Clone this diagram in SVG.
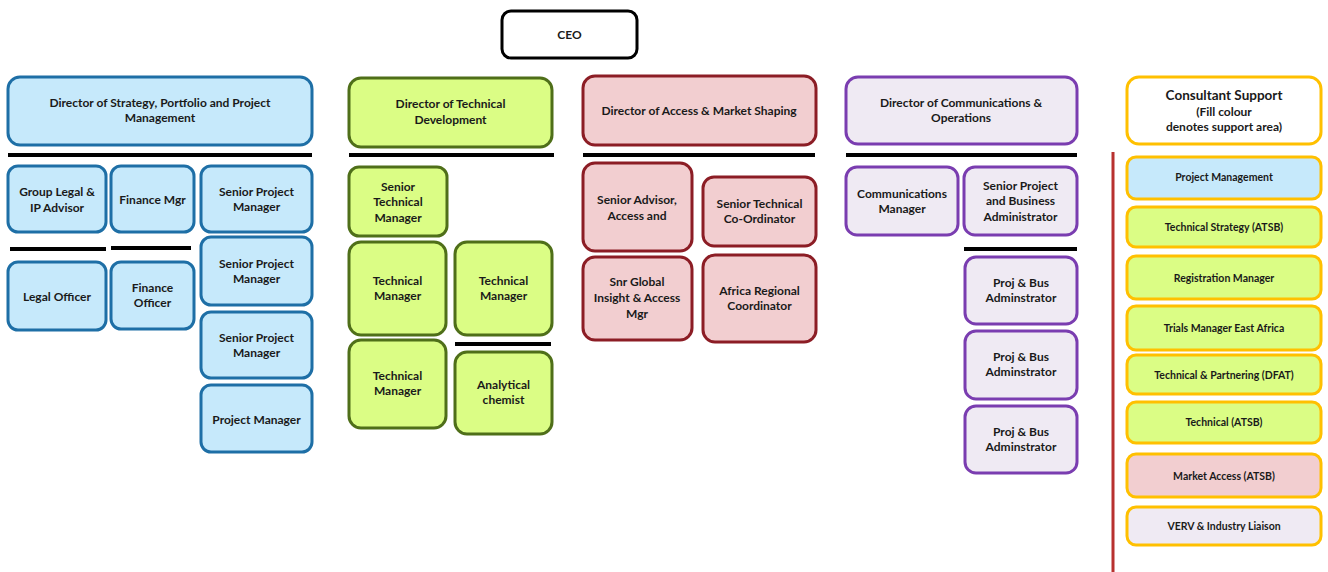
<svg xmlns="http://www.w3.org/2000/svg" width="1328" height="572" viewBox="0 0 1328 572">
<style>
text{font-family:Lato,"Liberation Sans",Arial,sans-serif;font-weight:bold;font-size:12px;fill:#1a1a1a;text-anchor:middle}
rect{stroke-width:3}
.ceo{fill:#fff;stroke:#000}
.b{fill:#c6e9fb;stroke:#1e6fa6}
.g{fill:#dbfd85;stroke:#4f6f19}
.r{fill:#f2ced0;stroke:#8c1d25}
.p{fill:#efeaf3;stroke:#7a3db0}
.cs{stroke:#ffc000}
.w{fill:#fff}
.sm{font-size:10.5px}
.hl{stroke:#000;stroke-width:4}
</style>
<g id="connectors">
<line class="hl" x1="8" y1="155" x2="312" y2="155"/>
<line class="hl" x1="349" y1="155" x2="554" y2="155"/>
<line class="hl" x1="583" y1="155" x2="815" y2="155"/>
<line class="hl" x1="846" y1="155" x2="1077" y2="155"/>
<line class="hl" x1="10" y1="249" x2="106" y2="249"/>
<line class="hl" x1="111" y1="248" x2="191" y2="248"/>
<line class="hl" x1="455" y1="344" x2="551" y2="344"/>
<line class="hl" x1="964" y1="249" x2="1077" y2="249"/>
<line x1="1113" y1="152" x2="1113" y2="572" stroke="#b8312f" stroke-width="3"/>
</g>
<g id="ceo"><rect class="ceo" x="502" y="11" width="135" height="47" rx="9"/><text x="569.5" y="39">CEO</text></g>
<g id="dir-strategy"><rect class="b" x="8" y="77" width="304" height="68" rx="12"/><text x="160" y="107">Director of Strategy, Portfolio and Project</text><text x="160" y="122">Management</text></g>
<g id="dir-technical"><rect class="g" x="349" y="78" width="203" height="69" rx="12"/><text x="450.5" y="108">Director of Technical</text><text x="450.5" y="124">Development</text></g>
<g id="dir-access"><rect class="r" x="583" y="76" width="233" height="69" rx="12"/><text x="699" y="115">Director of Access &amp; Market Shaping</text></g>
<g id="dir-comms"><rect class="p" x="846" y="77" width="231" height="67" rx="12"/><text x="961" y="107">Director of Communications &amp;</text><text x="961" y="122">Operations</text></g>
<g id="consultant"><rect class="w cs" x="1127" y="77" width="194" height="67" rx="12"/><text x="1224" y="100" style="font-size:13.5px">Consultant Support</text><text x="1224" y="116">(Fill colour</text><text x="1224" y="131">denotes support area)</text></g>

<g id="group-legal"><rect class="b" x="8" y="166" width="98" height="66" rx="10"/><text x="57" y="196">Group Legal &amp;</text><text x="57" y="212">IP Advisor</text></g>
<g id="finance-mgr"><rect class="b" x="111" y="166" width="83" height="66" rx="10"/><text x="152.5" y="204">Finance Mgr</text></g>
<g id="spm1"><rect class="b" x="201" y="166" width="111" height="66" rx="10"/><text x="256.5" y="196">Senior Project</text><text x="256.5" y="211">Manager</text></g>
<g id="legal-officer"><rect class="b" x="8" y="262" width="98" height="68" rx="10"/><text x="57" y="301">Legal Officer</text></g>
<g id="finance-officer"><rect class="b" x="111" y="262" width="83" height="67" rx="10"/><text x="152.5" y="292">Finance</text><text x="152.5" y="307">Officer</text></g>
<g id="spm2"><rect class="b" x="201" y="237" width="111" height="68" rx="10"/><text x="256.5" y="268">Senior Project</text><text x="256.5" y="283">Manager</text></g>
<g id="spm3"><rect class="b" x="201" y="312" width="111" height="66" rx="10"/><text x="256.5" y="342">Senior Project</text><text x="256.5" y="357">Manager</text></g>
<g id="pm"><rect class="b" x="201" y="385" width="111" height="67" rx="10"/><text x="256.5" y="424">Project Manager</text></g>

<g id="stm"><rect class="g" x="349" y="167" width="98" height="69" rx="10"/><text x="398" y="191">Senior</text><text x="398" y="206">Technical</text><text x="398" y="222">Manager</text></g>
<g id="tm1"><rect class="g" x="349" y="242" width="97" height="93" rx="12"/><text x="397.5" y="285">Technical</text><text x="397.5" y="300">Manager</text></g>
<g id="tm2"><rect class="g" x="455" y="242" width="97" height="93" rx="12"/><text x="503.5" y="285">Technical</text><text x="503.5" y="300">Manager</text></g>
<g id="tm3"><rect class="g" x="349" y="340" width="97" height="88" rx="12"/><text x="397.5" y="380">Technical</text><text x="397.5" y="395">Manager</text></g>
<g id="analytical"><rect class="g" x="455" y="352" width="97" height="82" rx="12"/><text x="503.5" y="389">Analytical</text><text x="503.5" y="404">chemist</text></g>

<g id="senior-advisor"><rect class="r" x="583" y="163" width="109" height="88" rx="12"/><text x="637" y="204">Senior Advisor,</text><text x="637" y="220">Access and</text></g>
<g id="stc"><rect class="r" x="703" y="177" width="113" height="69" rx="11"/><text x="759.5" y="208">Senior Technical</text><text x="759.5" y="223">Co-Ordinator</text></g>
<g id="snr-global"><rect class="r" x="583" y="257" width="109" height="83" rx="12"/><text x="637" y="286">Snr Global</text><text x="637" y="302">Insight &amp; Access</text><text x="637" y="318">Mgr</text></g>
<g id="africa"><rect class="r" x="703" y="255" width="113" height="87" rx="12"/><text x="759.5" y="295">Africa Regional</text><text x="759.5" y="310">Coordinator</text></g>

<g id="comms-mgr"><rect class="p" x="846" y="167" width="112" height="68" rx="11"/><text x="902" y="198">Communications</text><text x="902" y="213">Manager</text></g>
<g id="spba"><rect class="p" x="964" y="167" width="113" height="68" rx="11"/><text x="1020.5" y="190">Senior Project</text><text x="1020.5" y="205">and Business</text><text x="1020.5" y="221">Administrator</text></g>
<g id="pba1"><rect class="p" x="965" y="257" width="112" height="67" rx="11"/><text x="1021" y="287">Proj &amp; Bus</text><text x="1021" y="302">Adminstrator</text></g>
<g id="pba2"><rect class="p" x="965" y="331" width="112" height="68" rx="11"/><text x="1021" y="361">Proj &amp; Bus</text><text x="1021" y="376">Adminstrator</text></g>
<g id="pba3"><rect class="p" x="965" y="406" width="112" height="67" rx="11"/><text x="1021" y="436">Proj &amp; Bus</text><text x="1021" y="451">Adminstrator</text></g>

<g id="cs-pm"><rect class="b cs" x="1127" y="157" width="194" height="42" rx="9"/><text class="sm" x="1224" y="181">Project Management</text></g>
<g id="cs-ts"><rect class="g cs" x="1127" y="207" width="194" height="40" rx="9"/><text class="sm" x="1224" y="231">Technical Strategy (ATSB)</text></g>
<g id="cs-rm"><rect class="g cs" x="1127" y="256" width="194" height="43" rx="9"/><text class="sm" x="1224" y="282">Registration Manager</text></g>
<g id="cs-trials"><rect class="g cs" x="1127" y="306" width="194" height="44" rx="9"/><text class="sm" x="1224" y="332">Trials Manager East Africa</text></g>
<g id="cs-tp"><rect class="g cs" x="1127" y="355" width="194" height="39" rx="9"/><text class="sm" x="1224" y="379">Technical &amp; Partnering (DFAT)</text></g>
<g id="cs-tech"><rect class="g cs" x="1127" y="402" width="194" height="41" rx="9"/><text class="sm" x="1224" y="426">Technical (ATSB)</text></g>
<g id="cs-ma"><rect class="r cs" x="1127" y="454" width="194" height="43" rx="9"/><text class="sm" x="1224" y="480">Market Access (ATSB)</text></g>
<g id="cs-verv"><rect class="p cs" x="1127" y="507" width="194" height="38" rx="9"/><text class="sm" x="1224" y="530">VERV &amp; Industry Liaison</text></g>
</svg>
